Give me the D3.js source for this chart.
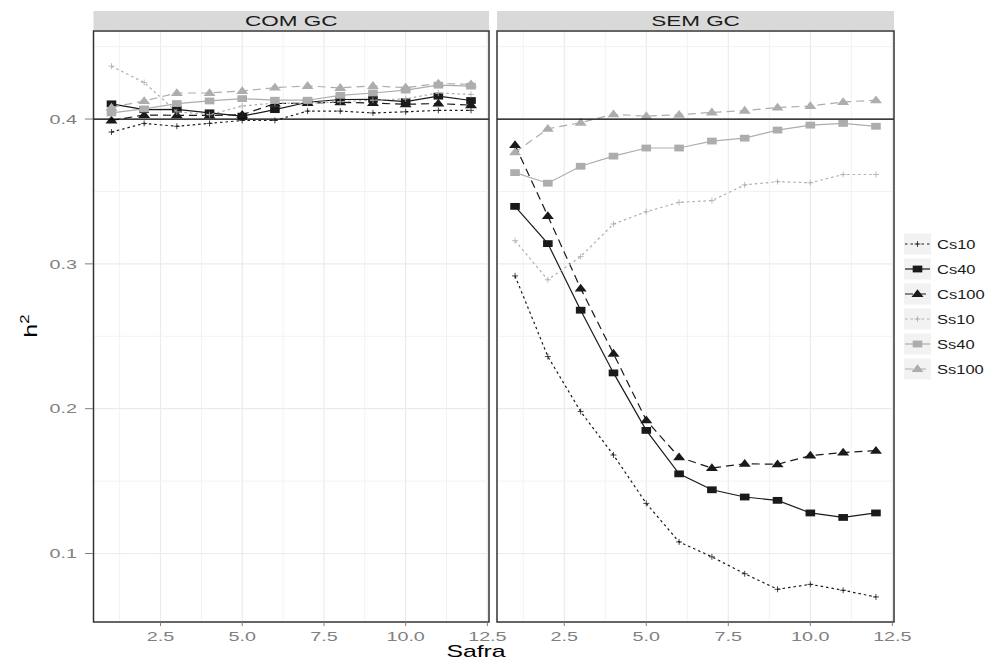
<!DOCTYPE html>
<html>
<head>
<meta charset="utf-8">
<script src="https://cdn.jsdelivr.net/npm/d3@7/dist/d3.min.js"></script>
<style>
  html, body { margin: 0; padding: 0; background: #fff; }
  svg { display: block; font-family: "Liberation Sans", Arial, Helvetica, sans-serif; }
</style>
</head>
<body>
<svg id="chart" width="987" height="659"></svg>
<script>
// ---------------- DATA ----------------
const safra = [1, 2, 3, 4, 5, 6, 7, 8, 9, 10, 11, 12];
const panels = ["COM GC", "SEM GC"];
const seriesNames = ["Cs10", "Cs40", "Cs100", "Ss10", "Ss40", "Ss100"];

// COM GC panel
const comCs10  = [0.391, 0.397, 0.395, 0.397, 0.399, 0.399, 0.4055, 0.4055, 0.4042, 0.405, 0.406, 0.406];
const comCs40  = [0.4105, 0.4065, 0.4067, 0.4043, 0.402, 0.4065, 0.4116, 0.4135, 0.4136, 0.412, 0.4158, 0.4128];
const comCs100 = [0.399, 0.4028, 0.4026, 0.4025, 0.403, 0.4107, 0.411, 0.4116, 0.411, 0.4102, 0.4107, 0.4096];
const comSs10  = [0.4365, 0.4252, 0.405, 0.403, 0.409, 0.411, 0.411, 0.412, 0.413, 0.414, 0.418, 0.417];
const comSs40  = [0.4042, 0.407, 0.4107, 0.4125, 0.4141, 0.413, 0.413, 0.4164, 0.418, 0.42, 0.4234, 0.4227];
const comSs100 = [0.408, 0.4125, 0.418, 0.418, 0.4194, 0.4217, 0.4229, 0.4215, 0.4229, 0.4217, 0.4245, 0.424];

// SEM GC panel
const semCs10  = [0.2917, 0.236, 0.198, 0.168, 0.1346, 0.108, 0.0977, 0.086, 0.0753, 0.0787, 0.0746, 0.07];
const semCs40  = [0.3397, 0.314, 0.268, 0.2247, 0.185, 0.155, 0.144, 0.139, 0.1367, 0.128, 0.1249, 0.128];
const semCs100 = [0.382, 0.333, 0.283, 0.238, 0.192, 0.1665, 0.159, 0.162, 0.1616, 0.1676, 0.1697, 0.171];
const semSs10  = [0.316, 0.289, 0.305, 0.3275, 0.336, 0.3425, 0.3437, 0.3545, 0.3568, 0.356, 0.3617, 0.3617];
const semSs40  = [0.363, 0.3557, 0.3674, 0.3744, 0.38, 0.38, 0.3848, 0.3868, 0.3924, 0.3958, 0.397, 0.395];
const semSs100 = [0.377, 0.3933, 0.3975, 0.4033, 0.402, 0.403, 0.4046, 0.4058, 0.408, 0.409, 0.4118, 0.413];

const refLine = 0.4;
const xTicks = [2.5, 5.0, 7.5, 10.0, 12.5];
const xMinor = [1.25, 3.75, 6.25, 8.75, 11.25];
const yTicks = [0.1, 0.2, 0.3, 0.4];
const yMinor = [0.15, 0.25, 0.35, 0.45];
const xTitle = "Safra";

// ---------------- STYLE ----------------
const BLACK = "#1a1a1a", GREY = "#adadad";
const styles = {
  Cs10:  { color: BLACK, dash: "2.5,3", shape: "plus" },
  Cs40:  { color: BLACK, dash: null,    shape: "square" },
  Cs100: { color: BLACK, dash: "8,5",   shape: "triangle" },
  Ss10:  { color: GREY,  dash: "2.5,3", shape: "plus" },
  Ss40:  { color: GREY,  dash: null,    shape: "square" },
  Ss100: { color: GREY,  dash: "8,5",   shape: "triangle" }
};
const panelData = [
  { name: panels[0], series: [comCs10, comCs40, comCs100, comSs10, comSs40, comSs100] },
  { name: panels[1], series: [semCs10, semCs40, semCs100, semSs10, semSs40, semSs100] }
];

const svg = d3.select("#chart");
const pTop = 31, pBottom = 622;
const panelX = [[93.5, 489], [497, 894]];

const y = d3.scaleLinear().domain([0.0527, 0.4608]).range([pBottom, pTop]);

function stext(g, x, yy, str, size, color, anchor, sx) {
  return g.append("text")
    .attr("transform", `translate(${x},${yy}) scale(${sx},1)`)
    .attr("font-size", size)
    .attr("fill", color)
    .attr("text-anchor", anchor || "middle")
    .text(str);
}

function drawMarker(g, shape, cx, cy, color) {
  if (shape === "square") {
    g.append("rect").attr("x", cx - 4.8).attr("y", cy - 3.4).attr("width", 9.6).attr("height", 6.8).attr("fill", color);
  } else if (shape === "triangle") {
    g.append("path").attr("d", `M${cx},${cy - 4.8} L${cx + 6},${cy + 3} L${cx - 6},${cy + 3} Z`).attr("fill", color);
  } else {
    g.append("path").attr("d", `M${cx - 3},${cy} H${cx + 3} M${cx},${cy - 3} V${cy + 3}`)
      .attr("stroke", color).attr("stroke-width", 0.8).attr("fill", "none");
  }
}

panelData.forEach((p, pi) => {
  const [x0, x1] = panelX[pi];
  const x = d3.scaleLinear().domain([0.45, 12.55]).range([x0, x1]);
  const g = svg.append("g");

  g.append("rect").attr("x", x0).attr("y", pTop).attr("width", x1 - x0).attr("height", pBottom - pTop).attr("fill", "#fff");

  g.selectAll(".vmin").data(xMinor).join("line")
    .attr("x1", d => x(d)).attr("x2", d => x(d)).attr("y1", pTop).attr("y2", pBottom)
    .attr("stroke", "#f2f2f2").attr("stroke-width", 1);
  g.selectAll(".vmaj").data(xTicks).join("line")
    .attr("x1", d => x(d)).attr("x2", d => x(d)).attr("y1", pTop).attr("y2", pBottom)
    .attr("stroke", "#ebebeb").attr("stroke-width", 1.2);
  g.selectAll(".hmin").data(yMinor).join("line")
    .attr("x1", x0).attr("x2", x1).attr("y1", d => y(d)).attr("y2", d => y(d))
    .attr("stroke", "#f2f2f2").attr("stroke-width", 1);
  g.selectAll(".hmaj").data(yTicks).join("line")
    .attr("x1", x0).attr("x2", x1).attr("y1", d => y(d)).attr("y2", d => y(d))
    .attr("stroke", "#ebebeb").attr("stroke-width", 1.2);

  const line = d3.line().x((d, i) => x(safra[i])).y(d => y(d));
  p.series.forEach((vals, si) => {
    const st = styles[seriesNames[si]];
    g.append("path").datum(vals).attr("d", line)
      .attr("fill", "none").attr("stroke", st.color).attr("stroke-width", 1.2)
      .attr("stroke-dasharray", st.dash);
    vals.forEach((v, i) => drawMarker(g, st.shape, x(safra[i]), y(v), st.color));
  });

  g.append("line").attr("x1", x0).attr("x2", x1).attr("y1", y(refLine)).attr("y2", y(refLine))
    .attr("stroke", "#000").attr("stroke-width", 1.3);

  g.append("rect").attr("x", x0).attr("y", pTop).attr("width", x1 - x0).attr("height", pBottom - pTop)
    .attr("fill", "none").attr("stroke", "#333").attr("stroke-width", 1.5);

  g.append("rect").attr("x", x0).attr("y", 11).attr("width", x1 - x0).attr("height", 19).attr("fill", "#d9d9d9");
  stext(g, (x0 + x1) / 2, 26, p.name, 15, "#1a1a1a", "middle", 1.5);

  xTicks.forEach(t => {
    g.append("line").attr("x1", x(t)).attr("x2", x(t)).attr("y1", pBottom).attr("y2", pBottom + 4)
      .attr("stroke", "#7f7f7f").attr("stroke-width", 1);
    stext(g, x(t), 640.5, d3.format(".1f")(t), 12.5, "#808080", "middle", 1.58);
  });
});

const ya = svg.append("g");
yTicks.forEach(t => {
  ya.append("line").attr("x1", 85).attr("x2", 93).attr("y1", y(t)).attr("y2", y(t))
    .attr("stroke", "#7f7f7f").attr("stroke-width", 1);
  stext(ya, 77, y(t) + 4.8, d3.format(".1f")(t), 12.5, "#808080", "end", 1.58);
});

stext(svg, 476, 656.5, xTitle, 16, "#000", "middle", 1.55);
const yt = svg.append("text")
  .attr("transform", `translate(37,326) rotate(-90) scale(1.4,1)`)
  .attr("font-size", 18).attr("fill", "#000").attr("text-anchor", "middle");
yt.append("tspan").text("h");
yt.append("tspan").attr("dy", -8).attr("font-size", 12).text("2");

const lg = svg.append("g");
seriesNames.forEach((s, i) => {
  const cy = 244 + i * 25;
  const st = styles[s];
  lg.append("rect").attr("x", 904).attr("y", cy - 10.5).attr("width", 27).attr("height", 21).attr("fill", "#f2f2f2");
  lg.append("line").attr("x1", 905).attr("x2", 930).attr("y1", cy).attr("y2", cy)
    .attr("stroke", st.color).attr("stroke-width", 1.2).attr("stroke-dasharray", st.dash);
  drawMarker(lg, st.shape, 917.5, cy, st.color);
  stext(lg, 937, cy + 4.5, s, 13, "#1a1a1a", "start", 1.27);
});
</script>
</body>
</html>
